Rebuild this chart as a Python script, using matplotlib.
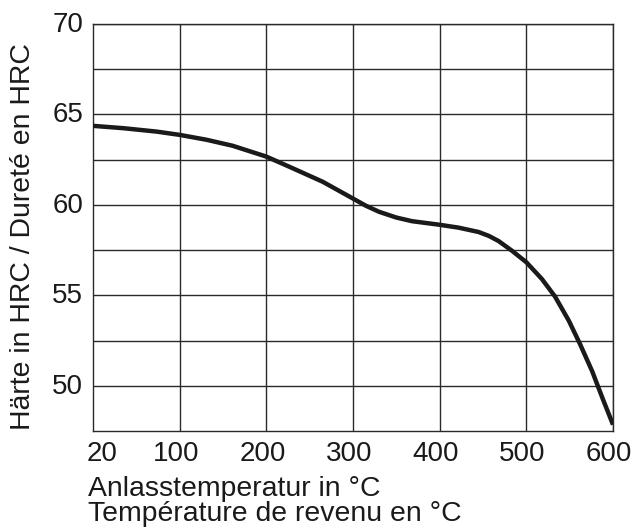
import numpy as np
import matplotlib
matplotlib.use("Agg")
import matplotlib.pyplot as plt
from matplotlib.transforms import ScaledTranslation

# Data
temperature = [20, 48, 79, 100, 131, 161, 200, 226, 265, 300, 315, 330, 350, 368, 400, 422,
               445, 457, 468, 483, 500, 518, 533, 549, 562, 576, 588, 600]
hardness = [64.37, 64.24, 64.05, 63.87, 63.6, 63.27, 62.67, 62.12, 61.28, 60.35, 59.95,
            59.62, 59.3, 59.1, 58.9, 58.74, 58.5, 58.28, 58.0, 57.48, 56.83, 55.9, 54.94,
            53.6, 52.3, 50.8, 49.3, 47.85]
x_ticks = [20, 100, 200, 300, 400, 500, 600]
y_ticks = [50, 55, 60, 65, 70]
y_minor = [52.5, 57.5, 62.5, 67.5]
xlabel_lines = ["Anlasstemperatur in °C", "Température de revenu en °C"]
ylabel = "Härte in HRC / Dureté en HRC"

plt.rcParams['font.family'] = ['Liberation Sans', 'DejaVu Sans']

def fwd(t):
    t = np.asarray(t, dtype=float)
    return np.where(t < 100, (t - 20) * 100.0 / 80.0, t)

def inv(u):
    u = np.asarray(u, dtype=float)
    return np.where(u < 100, u * 80.0 / 100.0 + 20, u)

W, H = 641, 530
fig = plt.figure(figsize=(W / 100, H / 100), dpi=100)
ax = fig.add_axes([93 / W, 1 - 431 / H, (613 - 93) / W, (431 - 24) / H])
ax.set_xscale('function', functions=(fwd, inv))
ax.set_xlim(20, 600)
ax.set_ylim(47.5, 70)

ax.plot(temperature, hardness, color='#1a1a1a', lw=3.2, solid_capstyle='butt',
        solid_joinstyle='round', zorder=3)

ax.set_xticks(x_ticks)
ax.set_xticklabels([str(v) for v in x_ticks])
ax.set_yticks(y_ticks)
ax.set_yticks(y_minor, minor=True)
ax.tick_params(axis='both', which='both', length=0, labelsize=20, colors='#1a1a1a')
ax.tick_params(axis='x', pad=7)
ax.tick_params(axis='y', pad=7)

# nudge x tick labels as in the reference
for i, lab in enumerate(ax.get_xticklabels()):
    dx = 9 if i == 0 else -4
    lab.set_transform(lab.get_transform() + ScaledTranslation(dx / 100, 0, fig.dpi_scale_trans))
for lab in ax.get_yticklabels():
    lab.set_transform(lab.get_transform() + ScaledTranslation(0, 2 / 100, fig.dpi_scale_trans))

ax.grid(True, which='both', color='#2a2a2a', lw=1.0)
ax.get_xgridlines()[0].set_visible(False)
for s in ax.spines.values():
    s.set_color('#2a2a2a')
    s.set_linewidth(1.0)
ax.set_axisbelow(True)

fig.text(88 / W, 1 - 476 / H, xlabel_lines[0], fontsize=20.4, ha='left', va='top', color='#1a1a1a')
fig.text(88 / W, 1 - 501 / H, xlabel_lines[1], fontsize=20.4, ha='left', va='top', color='#1a1a1a')
fig.text(23 / W, 1 - 236.5 / H, ylabel, fontsize=20.4, rotation=90, ha='center', va='center', color='#1a1a1a')

fig.savefig('out.png', dpi=100)
